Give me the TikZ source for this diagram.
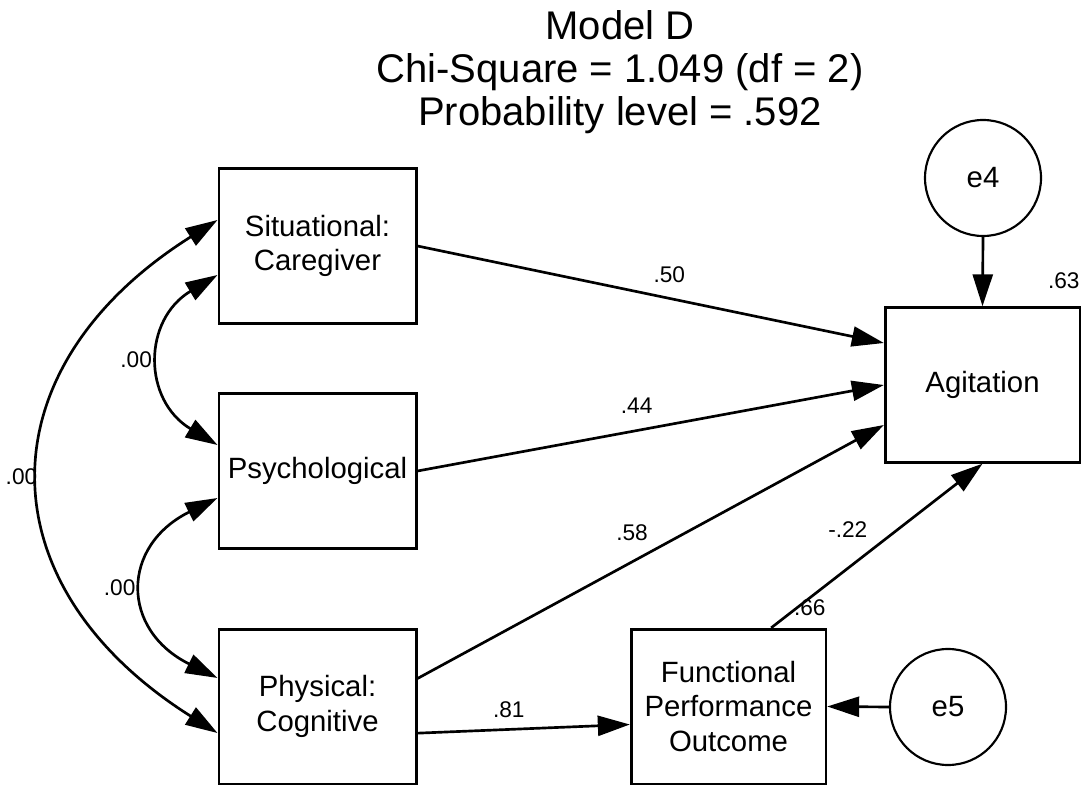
\documentclass[tikz,border=0pt]{standalone}
\usepackage{fontspec}
\setmainfont{Liberation Sans}
\usetikzlibrary{arrows.meta}

\begin{document}
\begin{tikzpicture}[
  x=0.75pt, y=-0.75pt, every node/.style={align=center},
  box/.style={draw, line width=2pt, minimum width=148pt, minimum height=116pt, inner sep=0pt, font=\fontsize{22}{26}\selectfont},
  err/.style={circle, draw, line width=1.6pt, minimum size=87pt, inner sep=0pt, font=\fontsize{22}{26}\selectfont},
  coef/.style={font=\fontsize{17}{19}\selectfont, inner sep=1pt},
  path/.style={->, line width=2pt},
  cov/.style={<->, line width=2pt},
  >={Triangle[length=24pt, width=15pt]}
]
\useasboundingbox (0,0) rectangle (1092,787);
\node[font=\fontsize{30}{32}\selectfont] (title) at (620,72) {Model D\\Chi-Square = 1.049 (df = 2)\\Probability level = .592};
\node[box] (sit) at (317.5,246) {Situational:\\Caregiver};
\node[box] (psy) at (317.5,471) {Psychological};
\node[box] (phy) at (317.5,706.5) {Physical:\\Cognitive};
\node[box, minimum width=146pt] (agi) at (982.5,385) {Agitation};
\node[box, minimum width=146pt] (fpo) at (728.5,706.5) {Functional\\Performance\\Outcome};
\node[err] (e4) at (983,178) {e4};
\node[err] (e5) at (948,707) {e5};
\node[coef, anchor=south east] (r2agi) at ([yshift=12pt]agi.north east) {.63};
\node[coef, anchor=south east] (r2fpo) at ([yshift=8pt]fpo.north east) {.66};
\draw[path] (sit.east) -- node[coef, pos=0.54, above=10pt] {.50} ([yshift=31.5pt]agi.west);
\draw[path] (psy.east) -- node[coef, pos=0.47, above=11pt] {.44} (agi.west);
\draw[path] ([yshift=21pt]phy.east) -- node[coef, pos=0.46, above=14pt] {.58} ([yshift=-30pt]agi.west);
\draw[path] ([xshift=32pt]fpo.north) -- node[coef, pos=0.6, left=21pt] {-.22} (agi.south);
\draw[path] ([yshift=-20pt]phy.east) -- node[coef, pos=0.43, above=7pt] {.81} ([yshift=-13.5pt]fpo.west);
\draw[path] (e4.south) -- (agi.north);
\draw[path] (e5.west) -- (fpo.east);
\draw[cov] ([yshift=-21.75pt]sit.west) .. controls +(-75,45) and +(-75,-45) .. ([yshift=19.5pt]psy.west) node[coef, midway, left=5pt] {.00};
\draw[cov] ([yshift=-20.25pt]psy.west) .. controls +(-97,48) and +(-97,-48) .. ([yshift=21.4pt]phy.west) node[coef, midway, left=5pt] {.00};
\draw[cov] ([yshift=19.5pt]sit.west) .. controls +(-235,148) and +(-235,-148) .. ([yshift=-19.9pt]phy.west) node[coef, midway, left=1pt] {.00};
\end{tikzpicture}
\end{document}
